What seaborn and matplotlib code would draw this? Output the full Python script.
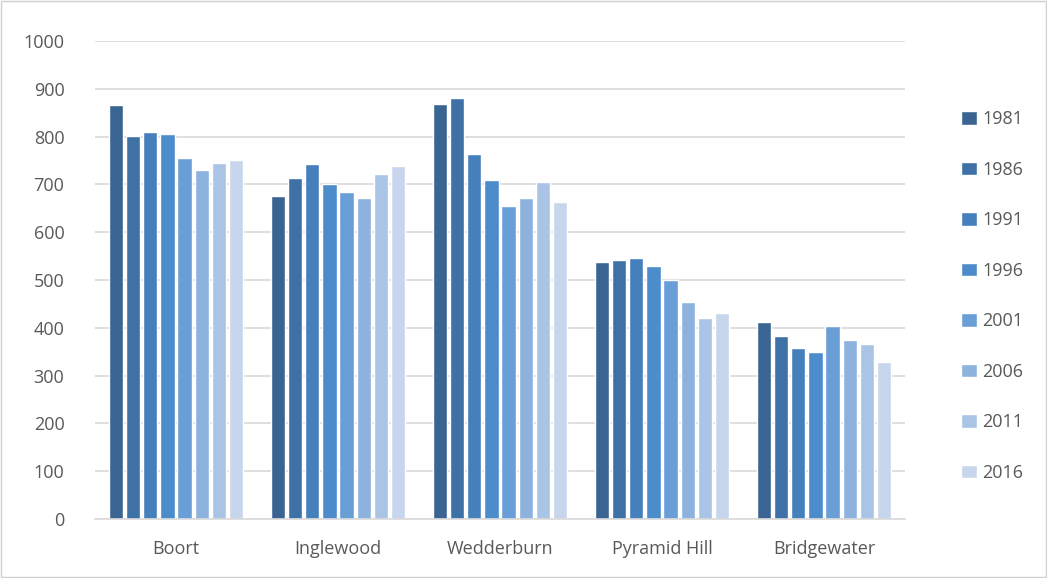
import seaborn as sns
import matplotlib.pyplot as plt
import pandas as pd
import numpy as np

towns = ['Boort', 'Inglewood', 'Wedderburn', 'Pyramid Hill', 'Bridgewater']
years = ['1981', '1986', '1991', '1996', '2001', '2006', '2011', '2016']

# population par ville, une liste par recensement
pop_1981 = [866, 676, 869, 538, 413]
pop_1986 = [802, 714, 881, 542, 383]
pop_1991 = [810, 743, 764, 547, 358]
pop_1996 = [806, 701, 710, 530, 350]
pop_2001 = [756, 685, 655, 501, 404]
pop_2006 = [731, 672, 672, 455, 375]
pop_2011 = [744, 722, 706, 421, 366]
pop_2016 = [752, 739, 663, 430, 329]

colors = ['#3A6592', '#3E72A7', '#4580BC', '#4C8CCB', '#6A9ED6', '#8DB2DE', '#AAC4E6', '#C7D6EC']

series = [pop_1981, pop_1986, pop_1991, pop_1996, pop_2001, pop_2006, pop_2011, pop_2016]
rows = []
for y, vals in zip(years, series):
    for t, v in zip(towns, vals):
        rows.append({'town': t, 'year': y, 'pop': v})
df = pd.DataFrame(rows)

sns.set_style('white')
plt.rcParams['font.family'] = ['Open Sans', 'DejaVu Sans']

fig = plt.figure(figsize=(10.47, 5.78), dpi=100)
ax = fig.add_axes([95 / 1047, 59 / 578, 810 / 1047, 478 / 578])

sns.barplot(data=df, x='town', y='pop', hue='year', hue_order=years, order=towns,
            palette=colors, width=0.85, gap=0.17, ax=ax, saturation=1, legend=True)

ax.set_ylim(0, 1000)
ax.set_yticks(np.arange(0, 1001, 100))
ax.set_xlim(-0.5, 4.5)
ax.yaxis.grid(True, color='#D9D9D9', linewidth=1.2)
ax.set_axisbelow(True)
for s in ['top', 'right', 'left']:
    ax.spines[s].set_visible(False)
ax.spines['bottom'].set_color('#D9D9D9')
ax.spines['bottom'].set_linewidth(1.2)
ax.set_xlabel('')
ax.set_ylabel('')
ax.tick_params(axis='both', length=0, labelsize=13, colors='#595959')
ax.tick_params(axis='x', pad=15)
ax.tick_params(axis='y', pad=22)

handles, labels = ax.get_legend_handles_labels()
ax.get_legend().remove()
fig.legend(handles, labels, loc='upper left', bbox_to_anchor=(945 / 1047, 1 - 94 / 578),
           frameon=False, fontsize=13, labelspacing=1.80, handlelength=0.85,
           handleheight=0.75, handletextpad=0.3, labelcolor='#595959')

fig.patches.append(plt.Rectangle((0.001, 0.001), 0.998, 0.998, transform=fig.transFigure,
                                 fill=False, edgecolor='#D0D0D0', linewidth=1))

plt.savefig('out.png', dpi=100)
